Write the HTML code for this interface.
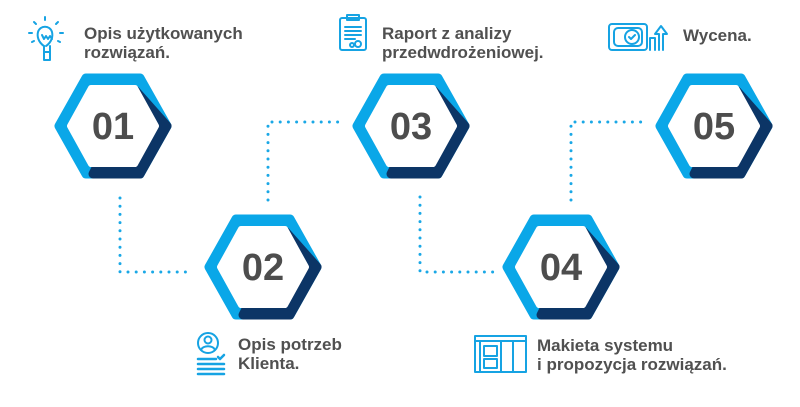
<!DOCTYPE html>
<html><head><meta charset="utf-8"><style>
html,body{margin:0;padding:0;background:#fff;}
svg{display:block}
text{font-family:"Liberation Sans",sans-serif;font-weight:bold;fill:#505050}
.lbl{font-size:17px}
.num{font-size:38px;fill:#4d4d4d}
.dot{stroke:#1aa8e6;stroke-width:3;stroke-linecap:round;stroke-dasharray:0 8.2;fill:none}
.ic{stroke:#16a3e3;stroke-width:2;fill:none;stroke-linejoin:round;stroke-linecap:round}
</style></head><body>
<svg width="800" height="407" viewBox="0 0 800 407" xmlns="http://www.w3.org/2000/svg">
<defs>
<g id="hex">
<polygon points="-54,0 -27,-48 27,-48 54,0 27,48 -27,48" fill="#0aa7e8" stroke="#0aa7e8" stroke-width="9" stroke-linejoin="round"/>
<polygon points="22,-36 54,0 27,48 -20,48" fill="#0c3566" stroke="#0c3566" stroke-width="9" stroke-linejoin="round"/>
<polygon points="-43,0 -22,-38 22,-38 43,0 22,38 -22,38" fill="#fff" stroke="#fff" stroke-width="6" stroke-linejoin="round"/>
</g>
</defs>
<path class="dot" d="M120 198 V272 H190"/>
<path class="dot" d="M268 200 V122 H340"/>
<path class="dot" d="M420 197 V272 H495"/>
<path class="dot" d="M571 200 V122 H645"/>
<use href="#hex" x="113" y="126"/>
<use href="#hex" x="263" y="267"/>
<use href="#hex" x="411" y="126"/>
<use href="#hex" x="561" y="267"/>
<use href="#hex" x="714" y="126"/>
<text class="num" x="113" y="139" text-anchor="middle">01</text>
<text class="num" x="263" y="280" text-anchor="middle">02</text>
<text class="num" x="411" y="139" text-anchor="middle">03</text>
<text class="num" x="561" y="280" text-anchor="middle">04</text>
<text class="num" x="714" y="139" text-anchor="middle">05</text>
<text class="lbl" x="84" y="39">Opis użytkowanych</text>
<text class="lbl" x="84" y="58">rozwiązań.</text>
<text class="lbl" x="382" y="39">Raport z analizy</text>
<text class="lbl" x="382" y="58">przedwdrożeniowej.</text>
<text class="lbl" x="683" y="41">Wycena.</text>
<text class="lbl" x="238" y="350">Opis potrzeb</text>
<text class="lbl" x="238" y="369">Klienta.</text>
<text class="lbl" x="537" y="351">Makieta systemu</text>
<text class="lbl" x="537" y="370">i propozycja rozwiązań.</text>
<g class="ic">
<path d="M44 52 V46 C38 42 37 36 38 32 C40 25 50 25 52 32 C53 36 52 42 46 46"/>
<path d="M44 52 h6 v8 h-6z M44 46 v6 M50 46 v6 M42 35 l2 4 2-3 2 3 2-3 2 3"/>
<path d="M45 20 v-3 M36 24 l-2 -2 M56 24 l2 -2 M32 33 h-3 M60 33 h3 M34 41 l-2 1 M58 41 l2 1"/>
<rect x="340" y="18" width="26" height="32" rx="2"/>
<rect x="347" y="15" width="12" height="5"/>
<path d="M345 27 h16 M345 31 h16 M345 35 h16 M345 39 h10"/>
<circle cx="352" cy="45" r="2"/><circle cx="358" cy="44" r="3"/>
<rect x="609" y="24" width="38" height="26" rx="3"/>
<rect x="614" y="28" width="28" height="18" rx="4"/>
<circle cx="632" cy="37" r="7"/><path d="M629 37 l2 2 4 -4"/>
<path d="M650 50 v-12 h5 v12 M659 50 v-16 h-4 l6-8 6 8 h-4 v16"/>
<circle cx="208" cy="343" r="10"/><circle cx="208" cy="340" r="3.5"/><path d="M201 350 c2-5 12-5 14 0"/>
<path d="M198 359 h18 M198 364 h26 M198 369 h26 M198 374 h26 M218 357 l2 2 4-4" stroke-width="2.5"/>
<rect x="475" y="336" width="51" height="36"/>
<path d="M475 341 h51 M501 341 v31 M513 341 v31 M480 341 v31"/>
<rect x="484" y="346" width="13" height="10"/><rect x="484" y="359" width="13" height="9"/>
</g>
</svg>
</body></html>
